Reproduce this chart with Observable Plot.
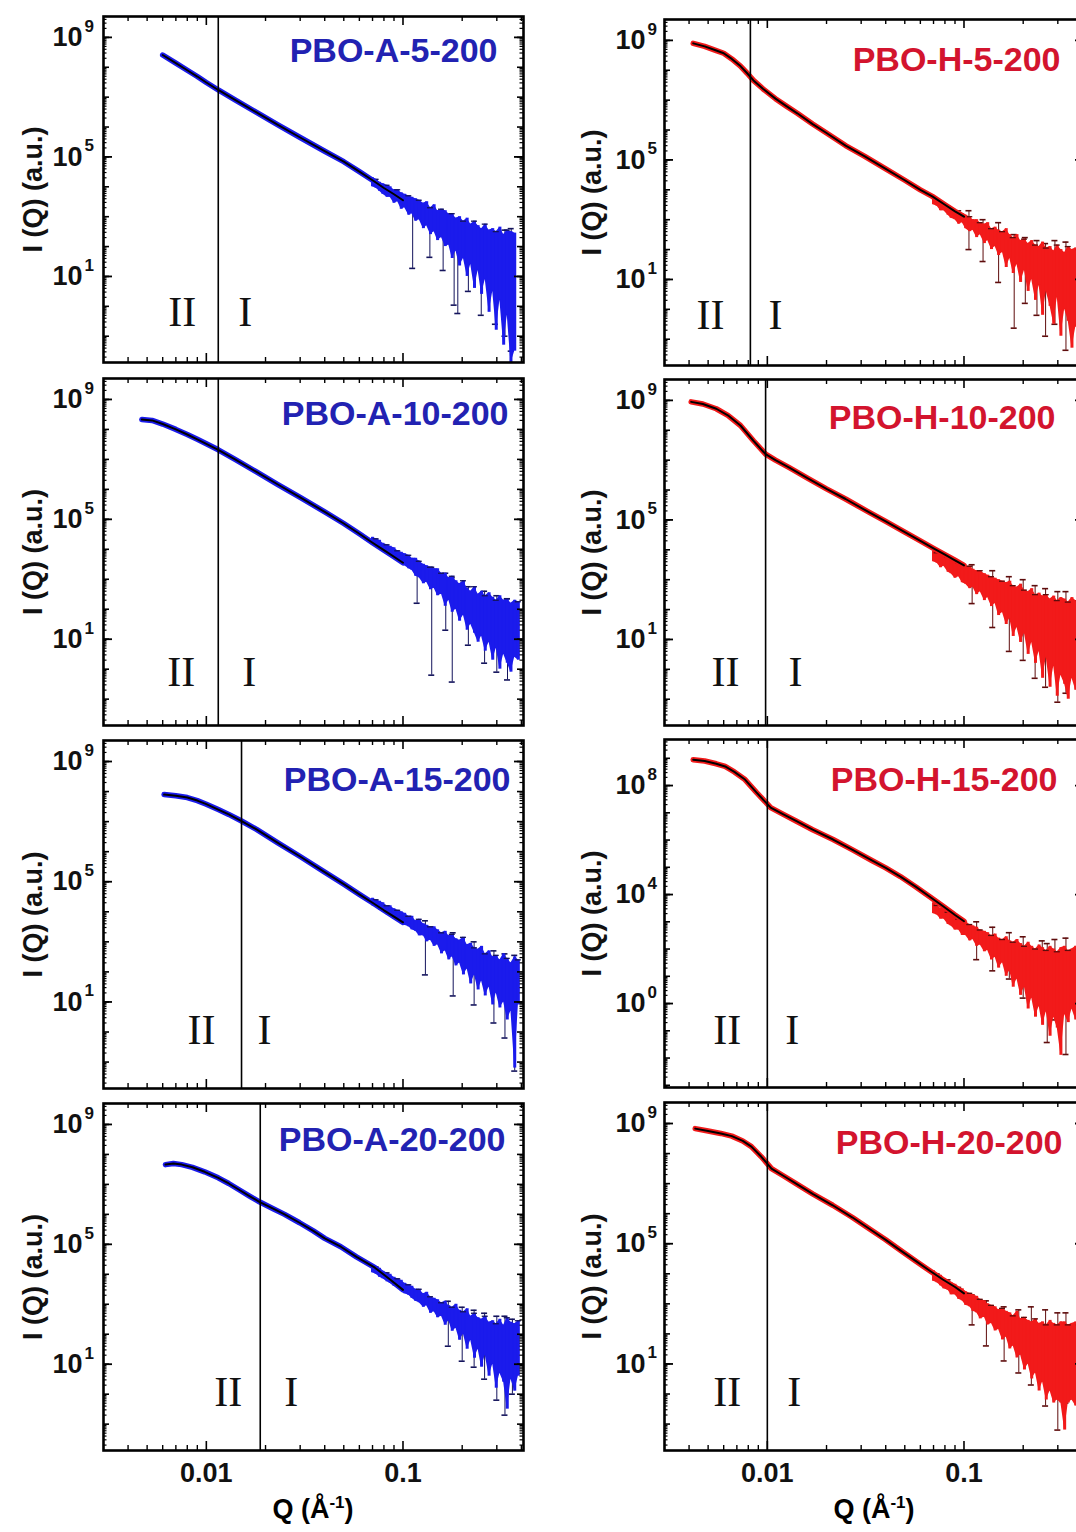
<!DOCTYPE html>
<html><head><meta charset="utf-8">
<script src="https://cdn.jsdelivr.net/npm/d3@7"></script>
<script src="https://cdn.jsdelivr.net/npm/@observablehq/plot@0.6"></script>
<style>
body{margin:0;background:#fff;}
#fig{position:relative;width:1076px;height:1532px;overflow:hidden;background:#fff;font-family:"Liberation Sans",Arial,sans-serif;}
.xlab{position:absolute;top:1494px;font-weight:bold;font-size:27px;transform:translateX(-50%);white-space:nowrap;color:#000;}
.xlab sup{font-size:17px;vertical-align:0.6em;line-height:0;}
</style></head><body><div id="fig"></div>
<script>
// ---------- shared axis data ----------
const xTickVals = [0.01, 0.1];
const xTickText = ["0.01", "0.1"];
const xMinor = [0.004,0.005,0.006,0.007,0.008,0.009,0.02,0.03,0.04,0.05,0.06,0.07,0.08,0.09,0.2,0.3,0.4];
const yLabStd = [1e9, 1e5, 1e1];
const yExpStd = ["9", "5", "1"];
const yLabH15 = [1e8, 1e4, 1];
const yExpH15 = ["8", "4", "0"];
const xDomain = [0.003, 0.41];
const yDomainStd = [0.0132, 5.0e9];
const yDomainH15 = [8.3e-4, 4.9e9];

// Q grid of the noisy high-Q region (shared)
const bandQ = [0.070,0.073,0.076,0.079,0.083,0.086,0.090,0.094,0.098,0.102,0.107,0.111,0.116,0.121,0.127,0.132,0.138,0.144,0.150,0.157,0.164,0.171,0.178,0.186,0.194,0.203,0.212,0.221,0.231,0.241,0.251,0.262,0.274,0.286,0.298,0.311,0.325,0.339,0.354,0.370,0.386];

// ---------- PBO-A-5-200 (log10 intensities) ----------
const A5_q    = [0.0060,0.0070,0.0080,0.0090,0.0100,0.0115,0.0140,0.0180,0.0230,0.0300,0.0400,0.0500,0.0600,0.0700,0.0800,0.0900,0.1000];
const A5_logI = [8.41,8.14,7.90,7.69,7.49,7.24,6.91,6.49,6.08,5.65,5.19,4.84,4.51,4.22,3.96,3.75,3.55];
const A5_hi = [4.3,4.25,4.15,4.1,4.05,4.0,3.9,3.9,3.8,3.75, 3.7,3.65,3.6,3.55,3.45,3.5,3.3,3.4,3.2,3.25, 3.2,3.1,3.1,2.95,3.0,2.85,2.95,2.75,2.85,2.7, 2.6,2.75,2.55,2.6,2.5,2.65,2.4,2.55,2.5,2.45,null];
const A5_lo = [4.0,3.95,3.85,3.75,3.65,3.65,3.45,3.5,3.25,3.3, 3.05,3.1,2.85,2.9,2.6,2.7,2.4,2.5,2.2,2.3, 2.0,2.05,1.6,1.85,1.35,1.6,1.0,1.4,0.6,1.2, 0.4,0.9,-0.2,0.5,-0.8,0.2,-1.3,-0.3,-1.9,-1.5,null];
const A5_eq  = [0.112,0.137,0.160,0.182,0.190,0.215,0.250,0.295,0.330,0.355];
const A5_elo = [1.27,1.64,1.2,0.04,-0.24,0.5,-0.3,-0.6,-1.0,-1.5];
const A5_ehi = [3.5,3.3,3.0,2.8,2.65,2.65,2.55,2.5,2.55,2.6];

// ---------- PBO-A-10-200 ----------
const A10_q    = [0.0047,0.0053,0.0060,0.0070,0.0080,0.0090,0.0100,0.0115,0.0140,0.0180,0.0230,0.0300,0.0400,0.0500,0.0600,0.0700,0.0800,0.0900,0.1000];
const A10_logI = [8.33,8.30,8.18,8.00,7.83,7.67,7.52,7.32,7.00,6.58,6.17,5.73,5.25,4.86,4.52,4.22,3.97,3.75,3.55];
const A10_hi = [4.4,4.35,4.3,4.2,4.15,4.1,4.05,3.95,3.9,3.85, 3.8,3.7,3.7,3.6,3.5,3.45,3.4,3.35,3.35,3.2, 3.2,3.05,3.1,2.95,2.85,2.95,2.7,2.6,2.75,2.5, 2.6,2.45,2.55,2.4,2.3,2.45,2.3,2.35,2.2,2.3,2.25];
const A10_lo = [4.15,4.1,4.0,3.95,3.85,3.8,3.7,3.6,3.55,3.45, 3.35,3.3,3.1,3.05,2.85,2.9,2.65,2.7,2.45,2.5, 2.1,2.3,1.9,2.0,1.6,1.8,1.3,1.5,1.2,0.9, 1.1,0.6,0.9,0.3,0.7,0.0,0.5,0.2,-0.1,0.4,0.3];
const A10_eq  = [0.118,0.140,0.165,0.178,0.215,0.260,0.300,0.340];
const A10_elo = [2.2,-0.2,1.3,-0.43,0.8,0.2,-0.1,-0.36];
const A10_ehi = [3.6,3.4,3.2,3.05,2.75,2.6,2.45,2.35];

// ---------- PBO-A-15-200 ----------
const A15_q    = [0.0061,0.0070,0.0080,0.0090,0.0100,0.0115,0.0130,0.0151,0.0180,0.0230,0.0300,0.0400,0.0500,0.0600,0.0700,0.0800,0.0900,0.1000];
const A15_logI = [7.90,7.86,7.80,7.70,7.58,7.40,7.24,7.02,6.74,6.30,5.84,5.32,4.92,4.58,4.30,4.05,3.84,3.65];
const A15_hi = [4.45,4.4,4.35,4.3,4.2,4.2,4.1,4.05,4.0,3.95, 3.85,3.85,3.7,3.75,3.6,3.55,3.5,3.5,3.4,3.3, 3.35,3.2,3.25,3.1,3.05,3.15,2.9,2.95,2.8,2.75, 2.85,2.6,2.7,2.5,2.55,2.4,2.6,2.45,2.3,2.5,2.4];
const A15_lo = [4.2,4.15,4.05,4.0,3.9,3.85,3.75,3.75,3.6,3.55, 3.5,3.4,3.35,3.2,3.2,3.0,3.05,2.85,2.9,2.6, 2.7,2.4,2.5,2.2,2.3,1.9,2.1,1.6,1.9,1.4, 1.7,1.2,1.5,0.9,1.3,0.8,1.0,0.4,0.7,-1.2,0.9];
const A15_eq  = [0.130,0.180,0.230,0.290,0.330,0.370];
const A15_elo = [1.9,1.2,0.9,0.3,-0.2,-1.3];
const A15_ehi = [3.7,3.3,3.0,2.7,2.6,2.55];

// ---------- PBO-A-20-200 ----------
const A20_q    = [0.0062,0.0068,0.0075,0.0085,0.0098,0.0115,0.0130,0.0146,0.0165,0.0186,0.0220,0.0250,0.0298,0.0350,0.0400,0.0483,0.0580,0.0720,0.0850,0.1000];
const A20_logI = [7.66,7.70,7.66,7.57,7.42,7.22,7.03,6.83,6.62,6.42,6.18,6.00,5.72,5.45,5.20,4.92,4.58,4.22,3.85,3.48];
const A20_hi = [4.3,4.25,4.2,4.1,4.05,4.0,3.9,3.85,3.8,3.7, 3.65,3.6,3.5,3.5,3.35,3.4,3.25,3.2,3.15,3.05, 3.1,2.95,2.9,3.0,2.8,2.75,2.85,2.6,2.7,2.55, 2.5,2.6,2.4,2.45,2.35,2.5,2.3,2.55,2.4,2.35,2.45];
const A20_lo = [4.05,4.0,3.9,3.85,3.75,3.7,3.6,3.55,3.45,3.35, 3.3,3.2,3.1,3.05,2.9,2.95,2.7,2.75,2.55,2.6, 2.3,2.45,2.1,2.2,1.8,2.0,1.5,1.8,1.2,1.5, 0.9,1.3,0.6,1.0,0.2,0.7,0.4,-0.5,0.5,0.1,0.6];
const A20_eq  = [0.170,0.200,0.230,0.260,0.300,0.330,0.360];
const A20_elo = [1.6,1.1,0.9,0.5,-0.2,-0.7,0.0];
const A20_ehi = [3.1,2.9,2.8,2.7,2.6,2.6,2.5];

// ---------- PBO-H-5-200 ----------
const H5_q    = [0.0042,0.0048,0.0055,0.0060,0.0066,0.0073,0.0079,0.0085,0.0095,0.0110,0.0125,0.0142,0.0170,0.0200,0.0250,0.0313,0.0400,0.0500,0.0600,0.0690,0.0800,0.0900,0.1000];
const H5_logI = [8.90,8.80,8.66,8.57,8.38,8.14,7.90,7.66,7.38,7.05,6.80,6.56,6.20,5.90,5.48,5.12,4.70,4.32,4.00,3.78,3.50,3.28,3.10];
const H5_hi = [3.75,3.7,3.6,3.55,3.45,3.4,3.3,3.3,3.2,3.15, 3.1,3.0,3.0,2.9,2.85,2.9,2.7,2.75,2.65,2.6, 2.7,2.5,2.4,2.5,2.3,2.35,2.2,2.3,2.15,2.1, 2.25,2.05,2.1,1.95,2.15,2.0,1.9,2.1,2.0,2.05,2.0];
const H5_lo = [3.5,3.45,3.3,3.3,3.15,3.05,3.0,2.85,2.9,2.7, 2.6,2.65,2.4,2.5,2.2,2.3,2.0,2.1,1.8,1.9, 1.4,1.7,1.2,1.5,0.9,1.3,0.6,1.0,0.3,0.8, -0.2,0.6,0.1,-0.5,0.4,-0.9,0.0,-0.4,-1.3,-0.6,-0.2];
const H5_eq  = [0.106,0.125,0.150,0.180,0.205,0.235,0.260,0.290,0.330];
const H5_elo = [2.0,1.6,0.9,-0.63,0.2,-0.2,-0.9,-0.5,-1.37];
const H5_ehi = [3.3,3.0,2.9,2.5,2.4,2.3,2.2,2.3,2.25];

// ---------- PBO-H-10-200 ----------
const H10_q    = [0.0041,0.0047,0.0055,0.0063,0.0073,0.0085,0.0098,0.0110,0.0130,0.0160,0.0200,0.0250,0.0330,0.0400,0.0500,0.0600,0.0700,0.0800,0.0900,0.1000];
const H10_logI = [8.95,8.88,8.72,8.50,8.16,7.65,7.20,7.00,6.74,6.40,6.04,5.70,5.25,4.95,4.59,4.30,4.05,3.84,3.65,3.48];
const H10_hi = [3.95,3.9,3.85,3.8,3.75,3.65,3.6,3.55,3.5,3.45, 3.45,3.35,3.3,3.3,3.2,3.15,3.1,3.05,3.0,2.95, 2.9,2.95,2.8,2.75,2.85,2.65,2.6,2.7,2.5,2.55, 2.45,2.5,2.35,2.45,2.3,2.4,2.35,2.25,2.4,2.3,2.3];
const H10_lo = [3.6,3.55,3.4,3.45,3.25,3.2,3.05,3.1,2.9,2.85, 2.7,2.75,2.5,2.6,2.3,2.4,2.1,2.2,1.8,1.9, 1.5,1.7,1.1,1.4,0.9,1.2,0.5,0.9,0.2,0.6, -0.3,0.4,-0.6,0.1,-0.9,-0.2,-0.5,-1.0,-0.3,-0.7,-0.5];
const H10_eq  = [0.110,0.140,0.170,0.200,0.230,0.260,0.300,0.330];
const H10_elo = [2.2,1.4,0.6,0.3,-0.3,-0.6,-1.1,-0.8];
const H10_ehi = [3.5,3.3,3.1,3.0,2.8,2.7,2.6,2.6];

// ---------- PBO-H-15-200 ----------
const H15_q    = [0.0042,0.0048,0.0055,0.0061,0.0068,0.0077,0.0088,0.0104,0.0120,0.0140,0.0170,0.0216,0.0270,0.0340,0.0400,0.0475,0.0570,0.0670,0.0780,0.0900,0.1000];
const H15_logI = [8.95,8.90,8.80,8.70,8.50,8.22,7.75,7.19,6.95,6.70,6.38,6.02,5.65,5.25,4.98,4.66,4.28,3.92,3.58,3.25,3.02];
const H15_hi = [3.7,3.6,3.5,3.45,3.35,3.25,3.2,3.1,3.05,3.0, 2.9,2.85,2.8,2.7,2.65,2.6,2.5,2.55,2.4,2.35, 2.45,2.3,2.25,2.35,2.2,2.1,2.25,2.1,2.0,2.15, 2.05,1.95,2.1,2.0,1.9,2.05,2.1,1.95,2.0,2.1,2.0];
const H15_lo = [3.3,3.25,3.1,3.1,2.9,2.85,2.7,2.7,2.5,2.5, 2.3,2.35,2.1,2.15,1.9,1.95,1.6,1.7,1.3,1.5, 1.0,1.2,0.6,0.9,0.3,0.6,-0.2,0.2,-0.5,-0.1, -0.8,-0.3,-1.2,-0.5,-0.9,-1.9,-0.4,-0.7,-0.2,-0.6,-0.3];
const H15_eq  = [0.116,0.140,0.170,0.200,0.250,0.265,0.290,0.330];
const H15_elo = [1.61,1.2,0.9,0.2,-0.1,-1.43,-0.6,-1.87];
const H15_ehi = [3.0,2.8,2.6,2.45,2.3,2.2,2.35,2.4];

// ---------- PBO-H-20-200 ----------
const H20_q    = [0.0043,0.0050,0.0058,0.0066,0.0075,0.0083,0.0093,0.0105,0.0120,0.0140,0.0170,0.0215,0.0270,0.0340,0.0400,0.0475,0.0570,0.0670,0.0780,0.0900,0.1000];
const H20_logI = [8.83,8.75,8.67,8.58,8.42,8.23,7.90,7.50,7.27,7.00,6.66,6.28,5.88,5.44,5.13,4.78,4.42,4.10,3.81,3.56,3.35];
const H20_hi = [4.1,4.0,3.95,3.85,3.8,3.7,3.65,3.55,3.5,3.4, 3.35,3.3,3.25,3.15,3.1,3.0,2.95,2.9,2.8,2.85, 2.75,2.7,2.6,2.75,2.5,2.55,2.45,2.4,2.5,2.35, 2.4,2.3,2.45,2.35,2.3,2.4,2.4,2.3,2.35,2.4,2.3];
const H20_lo = [3.75,3.7,3.6,3.5,3.45,3.3,3.3,3.15,3.1,2.95, 2.9,2.75,2.7,2.5,2.55,2.3,2.35,2.1,2.15,1.8, 1.9,1.5,1.6,1.2,1.3,0.8,1.0,0.5,0.7,0.1, 0.4,-0.2,0.1,-0.3,-0.2,-0.3,-1.2,-0.3,-0.2,-0.4,-0.3];
const H20_eq  = [0.110,0.130,0.160,0.190,0.220,0.260,0.300,0.330];
const H20_elo = [2.3,1.6,1.1,0.7,0.3,-0.4,-1.2,-0.3];
const H20_ehi = [3.3,3.1,2.9,2.8,2.9,2.8,2.7,2.7];

// boundary between regions II and I (Q, Å^-1)
const splitQ = {A5:0.0115, A10:0.0115, A15:0.0151, A20:0.0188, H5:0.0082, H10:0.0098, H15:0.0100, H20:0.0100};

// ---------- panel layout ----------
const panels = [
  {name:"PBO-A-5-200",  col:0,row:0,top:16,  h:346, split:splitQ.A5,  q:A5_q,  logI:A5_logI,  hi:A5_hi,  lo:A5_lo,  eq:A5_eq,  elo:A5_elo,  ehi:A5_ehi,  tdx:-26,tdy:35, iiDx:-36,iDx:27,rDy:-50},
  {name:"PBO-A-10-200", col:0,row:1,top:378, h:347, split:splitQ.A10, q:A10_q, logI:A10_logI, hi:A10_hi, lo:A10_lo, eq:A10_eq, elo:A10_elo, ehi:A10_ehi, tdx:-15,tdy:36, iiDx:-37,iDx:31,rDy:-53},
  {name:"PBO-A-15-200", col:0,row:2,top:740, h:348, split:splitQ.A15, q:A15_q, logI:A15_logI, hi:A15_hi, lo:A15_lo, eq:A15_eq, elo:A15_elo, ehi:A15_ehi, tdx:-13,tdy:40, iiDx:-40,iDx:23,rDy:-58},
  {name:"PBO-A-20-200", col:0,row:3,top:1103,h:347, split:splitQ.A20, q:A20_q, logI:A20_logI, hi:A20_hi, lo:A20_lo, eq:A20_eq, elo:A20_elo, ehi:A20_ehi, tdx:-18,tdy:37, iiDx:-32,iDx:31,rDy:-58},
  {name:"PBO-H-5-200",  col:1,row:0,top:19,  h:346, split:splitQ.H5,  q:H5_q,  logI:H5_logI,  hi:H5_hi,  lo:H5_lo,  eq:H5_eq,  elo:H5_elo,  ehi:H5_ehi,  tdx:-24,tdy:41, iiDx:-40,iDx:25,rDy:-50},
  {name:"PBO-H-10-200", col:1,row:1,top:379, h:346, split:splitQ.H10, q:H10_q, logI:H10_logI, hi:H10_hi, lo:H10_lo, eq:H10_eq, elo:H10_elo, ehi:H10_ehi, tdx:-29,tdy:39, iiDx:-40,iDx:30,rDy:-53},
  {name:"PBO-H-15-200", col:1,row:2,top:739, h:348, split:splitQ.H15, q:H15_q, logI:H15_logI, hi:H15_hi, lo:H15_lo, eq:H15_eq, elo:H15_elo, ehi:H15_ehi, tdx:-27,tdy:41, iiDx:-40,iDx:25,rDy:-57, h15:true},
  {name:"PBO-H-20-200", col:1,row:3,top:1102,h:348, split:splitQ.H20, q:H20_q, logI:H20_logI, hi:H20_hi, lo:H20_lo, eq:H20_eq, elo:H20_elo, ehi:H20_ehi, tdx:-22,tdy:41, iiDx:-40,iDx:27,rDy:-58}
];

const pow10 = v => (v == null ? NaN : Math.pow(10, v));
const FONT = "Liberation Sans, Arial, sans-serif";
const fig = document.getElementById("fig");

function yTicks(domain) {
  const dec = [], minor = [];
  for (let e = -4; e <= 10; e++) {
    const b = Math.pow(10, e);
    if (b >= domain[0] && b <= domain[1]) dec.push(b);
    for (let m = 2; m <= 9; m++) {
      const v = m * b;
      if (v >= domain[0] && v <= domain[1]) minor.push(v);
    }
  }
  return {dec, minor};
}

function drawPanel(p) {
  const plotW = 420, plotH = p.h;
  const mL = p.col === 0 ? 103 : 104, mR = 14, mT = 12;
  const mB = p.row === 3 ? 48 : 12;
  const width = mL + plotW + mR, height = mT + plotH + mB;
  const yDomain = p.h15 ? yDomainH15 : yDomainStd;
  const yLab = p.h15 ? yLabH15 : yLabStd;
  const yExp = p.h15 ? yExpH15 : yExpStd;
  const {dec, minor} = yTicks(yDomain);
  const bright = p.col === 0 ? "#1b1bec" : "#f21a1a";
  const dark = p.col === 0 ? "#14145c" : "#5e0c0c";
  const titleColor = p.col === 0 ? "#2222b2" : "#d3142e";

  const curve = p.q.map((q, i) => ({q, I: pow10(p.logI[i])}));
  const band = bandQ.map((q, i) => ({q, lo: pow10(p.lo[i]), hi: pow10(p.hi[i])})).filter(d => !isNaN(d.lo) && !isNaN(d.hi));
  const errs = p.eq.map((q, i) => ({q, lo: pow10(p.elo[i]), hi: pow10(p.ehi[i])}));

  const marks = [
    // error bars
    Plot.ruleX(errs, {x: "q", y1: "lo", y2: "hi", stroke: dark, strokeWidth: 1, clip: true}),
    Plot.ruleY(errs, {y: "lo", x1: "q", x2: "q", insetLeft: -3, insetRight: -3, stroke: dark, strokeWidth: 1.6, clip: true}),
    Plot.ruleY(errs, {y: "hi", x1: "q", x2: "q", insetLeft: -3, insetRight: -3, stroke: dark, strokeWidth: 1.6, clip: true}),
    // noisy data band
    Plot.areaY(band, {x: "q", y1: "lo", y2: "hi", fill: bright, clip: true}),
    Plot.ruleX(band, {x: "q", y1: "lo", y2: "hi", stroke: bright, strokeWidth: 3, clip: true}),
    Plot.ruleY(band.filter((d, i) => i % 3 === 1), {y: "hi", x1: "q", x2: "q", insetLeft: -3, insetRight: -3, stroke: dark, strokeWidth: 1.3, clip: true}),
    // smooth data + fit
    Plot.line(curve, {x: "q", y: "I", stroke: bright, strokeWidth: 5.5, clip: true}),
    Plot.line(curve, {x: "q", y: "I", stroke: "#000", strokeWidth: 2, clip: true}),
    // region boundary
    Plot.ruleX([p.split], {stroke: "#000", strokeWidth: 1.6}),
    // ticks (inward, all four sides)
    Plot.tickX(xTickVals, {x: d => d, insetTop: plotH - 9, strokeWidth: 1.6}),
    Plot.tickX(xTickVals, {x: d => d, insetBottom: plotH - 9, strokeWidth: 1.6}),
    Plot.tickX(xMinor, {x: d => d, insetTop: plotH - 5, strokeWidth: 1.4}),
    Plot.tickX(xMinor, {x: d => d, insetBottom: plotH - 5, strokeWidth: 1.4}),
    Plot.tickY(yLab, {y: d => d, insetRight: plotW - 9, strokeWidth: 1.8}),
    Plot.tickY(yLab, {y: d => d, insetLeft: plotW - 9, strokeWidth: 1.8}),
    Plot.tickY(dec, {y: d => d, insetRight: plotW - 6, strokeWidth: 1.6}),
    Plot.tickY(dec, {y: d => d, insetLeft: plotW - 6, strokeWidth: 1.6}),
    Plot.tickY(minor, {y: d => d, insetRight: plotW - 3.5, strokeWidth: 1.2}),
    Plot.tickY(minor, {y: d => d, insetLeft: plotW - 3.5, strokeWidth: 1.2}),
    Plot.frame({stroke: "#000", strokeWidth: 2.6}),
    // y tick labels 10^n
    Plot.text(yLab, {y: d => d, text: () => "10", frameAnchor: "left", dx: p.col === 0 ? -21 : -19, textAnchor: "end", lineAnchor: "middle", fontSize: 27, fontWeight: "bold", fontFamily: FONT, fill: "#111"}),
    Plot.text(yLab, {y: d => d, text: yExp, frameAnchor: "left", dx: p.col === 0 ? -19 : -17, dy: -11, textAnchor: "start", lineAnchor: "middle", fontSize: 17, fontWeight: "bold", fontFamily: FONT, fill: "#111"}),
    // y axis title
    Plot.text(["I (Q) (a.u.)"], {frameAnchor: "left", dx: p.col === 0 ? -70 : -72, rotate: -90, textAnchor: "middle", lineAnchor: "middle", fontSize: 27, fontWeight: "bold", fontFamily: FONT, fill: "#111"}),
    // panel title
    Plot.text([p.name], {frameAnchor: "top-right", dx: p.tdx, dy: p.tdy, textAnchor: "end", lineAnchor: "middle", fontSize: 34, fontWeight: "bold", fontFamily: FONT, fill: titleColor}),
    // region labels
    Plot.text(["II"], {x: () => p.split, frameAnchor: "bottom", dx: p.iiDx, dy: p.rDy, lineAnchor: "middle", textAnchor: "middle", fontSize: 42, fontFamily: "Liberation Serif, Times New Roman, serif", fill: "#111"}),
    Plot.text(["I"], {x: () => p.split, frameAnchor: "bottom", dx: p.iDx, dy: p.rDy, lineAnchor: "middle", textAnchor: "middle", fontSize: 42, fontFamily: "Liberation Serif, Times New Roman, serif", fill: "#111"})
  ];
  if (p.row === 3) {
    marks.push(Plot.text(xTickVals, {x: d => d, text: xTickText, frameAnchor: "bottom", dy: 23, lineAnchor: "middle", textAnchor: "middle", fontSize: 27, fontWeight: "bold", fontFamily: FONT, fill: "#111"}));
  }

  const svg = Plot.plot({
    width, height,
    marginLeft: mL, marginRight: mR, marginTop: mT, marginBottom: mB,
    x: {type: "log", domain: xDomain, axis: null},
    y: {type: "log", domain: yDomain, axis: null},
    style: {fontFamily: FONT, background: "transparent", overflow: "visible"},
    marks
  });
  svg.style.position = "absolute";
  svg.style.left = (p.col === 0 ? 0 : 560) + "px";
  svg.style.top = (p.top - mT) + "px";
  fig.appendChild(svg);
}

panels.forEach(drawPanel);

// x axis titles below the bottom row
[313, 874].forEach(cx => {
  const d = document.createElement("div");
  d.className = "xlab";
  d.style.left = cx + "px";
  d.innerHTML = "Q (Å<sup>-1</sup>)";
  fig.appendChild(d);
});
</script></body></html>
